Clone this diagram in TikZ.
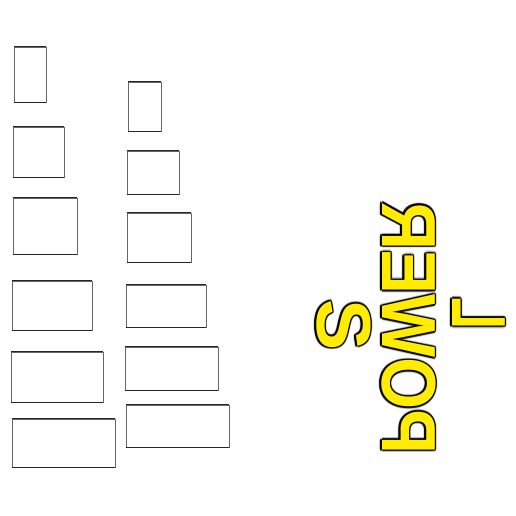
\documentclass[tikz,border=0pt]{standalone}
\usepackage{fontspec}
\setmainfont{Liberation Sans}
\usetikzlibrary{shadows}
\definecolor{yel}{RGB}{255,236,0}
\begin{document}
\begin{tikzpicture}[x=1pt,y=1pt,
  boxnode/.style={draw=gray!80!black, line width=0.8pt, fill=white, inner sep=0pt,
    general shadow={fill=gray!30, shadow xshift=0.8pt, shadow yshift=-0.8pt}},
  boxedge/.style={draw=black!85, line width=1.7pt},
  wordstyle/.style={rotate=-90, anchor=base, inner sep=0pt,
    font=\fontsize{76.8}{80}\selectfont\bfseries},
  haloin/.style={wordstyle, text=black, opacity=0.75},
  haloout/.style={wordstyle, text=black, opacity=0.18},
  wordfill/.style={wordstyle, text=yel}]
\useasboundingbox (0,0) rectangle (516,516);
\fill[white] (0,0) rectangle (516,516);
% boxes: name / left / top / right / bottom (pixel coords, y down)
\foreach \n/\xa/\ya/\xb/\yb in {
  L1/14/47/46/102, L2/13/127/64/177, L3/13/198/77/254, L4/12/281/92/330,
  L5/11/352/103/402, L6/12/419/115/467,
  R1/128/82/161/131, R2/127/151/179/194, R3/127/213/191/262, R4/126/285/206/327,
  R5/125/347/218/390, R6/126/405/229/447} {
  \pgfmathsetmacro{\bw}{\xb-\xa}
  \pgfmathsetmacro{\bh}{\yb-\ya}
  \pgfmathsetmacro{\cx}{(\xa+\xb)/2}
  \pgfmathsetmacro{\cy}{516-(\ya+\yb)/2}
  \node[boxnode, minimum width=\bw pt, minimum height=\bh pt] (\n) at (\cx,\cy) {};
  \draw[boxedge] (\n.north west) -- (\n.north east);
  \draw[boxedge] (\n.south west) -- (\n.south east);
}
% words (read upwards, tops to the right): name / baseline x / centre y / text
\foreach \w/\bx/\by/\t in {
  wS/317/191/{S},
  wP/382/188/{\reflectbox{\scalebox{0.87}[1]{POWER}}},
  wL/452/202.5/{\reflectbox{\scalebox{0.68}[1]{L}}}} {
  \foreach \dx/\dy [count=\k] in {2.6/0,-2.6/0,0/2.6,0/-2.6,1.9/1.9,1.9/-1.9,-1.9/1.9,-1.9/-1.9}
    \node[haloout] (\w o\k) at (\bx+\dx,\by+\dy) {\t};
  \foreach \dx/\dy [count=\k] in {1.5/0,-1.5/0,0/1.5,0/-1.5,1.1/1.1,1.1/-1.1,-1.1/1.1,-1.1/-1.1}
    \node[haloin] (\w i\k) at (\bx+\dx,\by+\dy) {\t};
  \node[wordfill] (\w) at (\bx,\by) {\t};
}
\end{tikzpicture}
\end{document}
